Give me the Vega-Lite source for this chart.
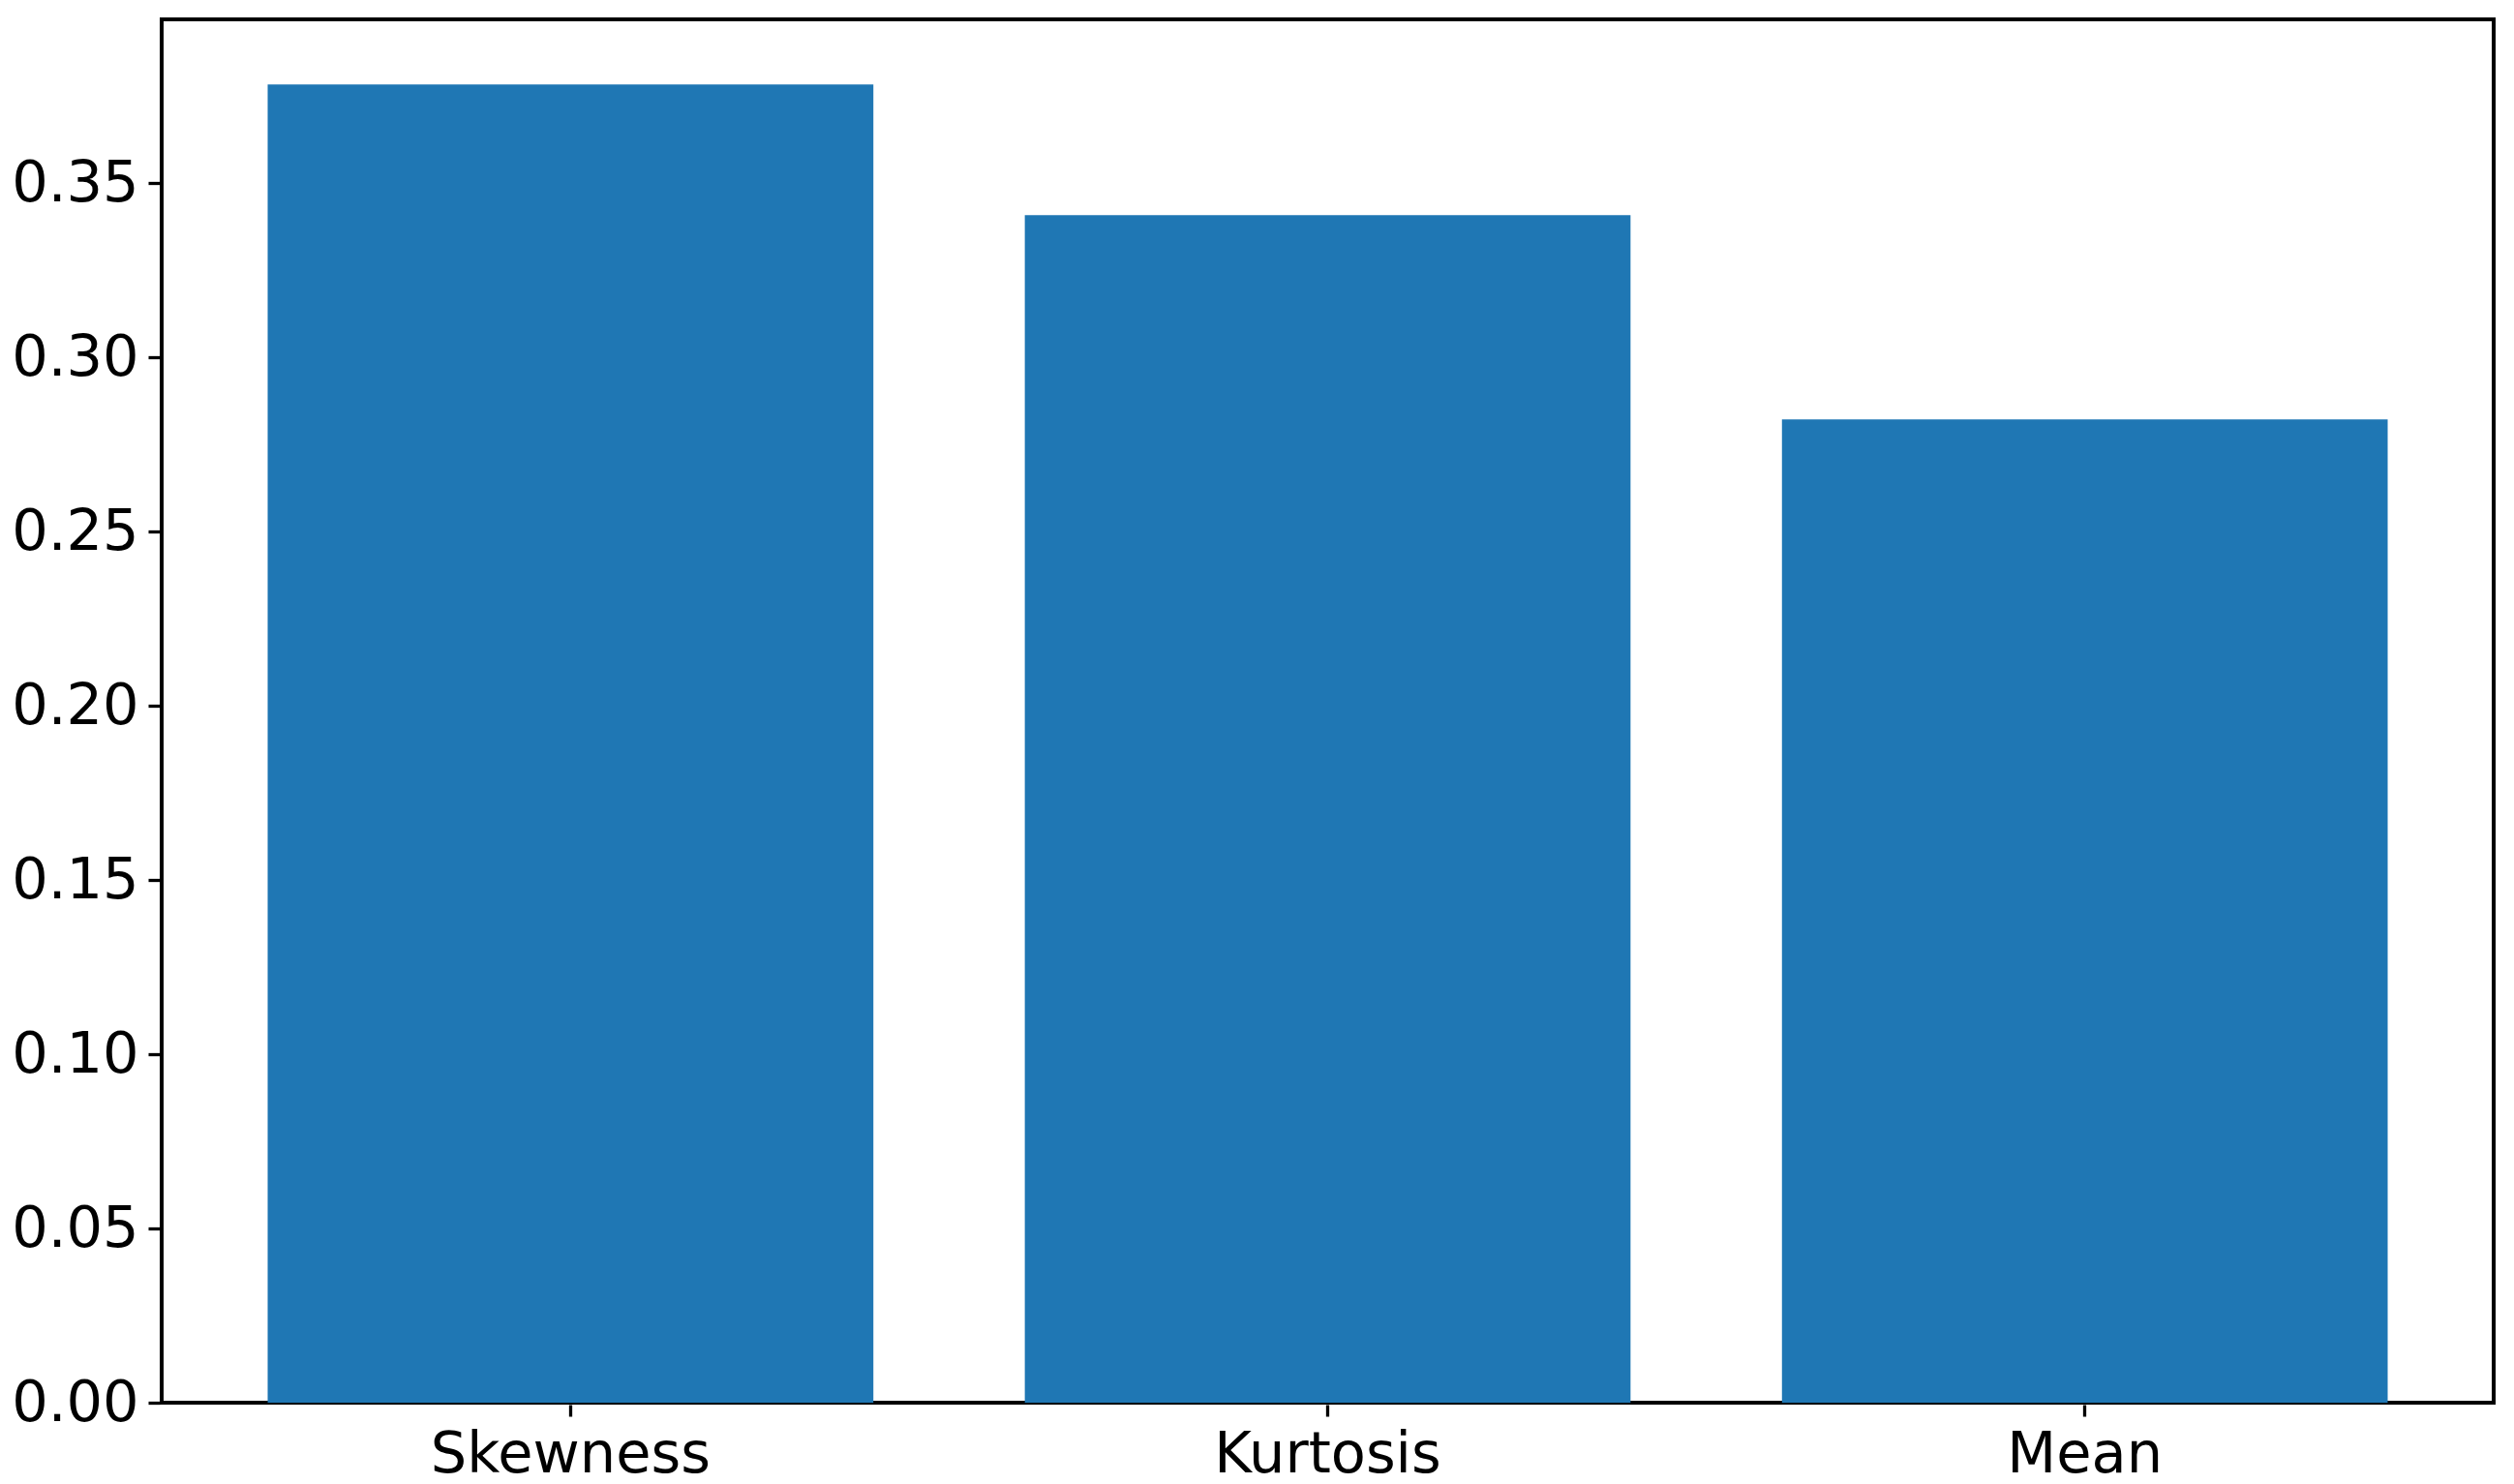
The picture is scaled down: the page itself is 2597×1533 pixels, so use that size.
{
  "$schema": "https://vega.github.io/schema/vega-lite/v6.json",
  "autosize": {"type": "none"},
  "padding": {"left": 167, "top": 20, "right": 21, "bottom": 84},
  "width": 2409,
  "height": 1429,
  "background": "white",
  "data": {"values": [
    {"stat": "Skewness", "value": 0.3783},
    {"stat": "Kurtosis", "value": 0.3408},
    {"stat": "Mean", "value": 0.2822}
  ]},
  "mark": {"type": "bar", "color": "#1f77b4"},
  "encoding": {
    "x": {
      "field": "stat", "type": "nominal", "sort": null,
      "scale": {"paddingInner": 0.2, "paddingOuter": 0.14},
      "axis": {
        "title": null, "labelAngle": 0, "domain": false, "grid": false,
        "ticks": true, "tickSize": 12, "tickWidth": 3.3, "tickColor": "black",
        "labelFont": "DejaVu Sans", "labelFontSize": 59, "labelColor": "black",
        "labelPadding": 10, "labelBaseline": "top", "offset": 2, "labelLimit": 0
      }
    },
    "y": {
      "field": "value", "type": "quantitative",
      "scale": {"domain": [0, 0.397], "nice": false, "zero": true},
      "axis": {
        "title": null, "domain": false, "grid": false,
        "values": [0, 0.05, 0.1, 0.15, 0.2, 0.25, 0.3, 0.35],
        "format": ".2f",
        "ticks": true, "tickSize": 12, "tickWidth": 3.3, "tickColor": "black",
        "labelFont": "DejaVu Sans", "labelFontSize": 59, "labelColor": "black",
        "labelPadding": 10, "offset": 2, "labelLimit": 0
      }
    }
  },
  "config": {
    "view": {"stroke": "black", "strokeWidth": 4}
  }
}
